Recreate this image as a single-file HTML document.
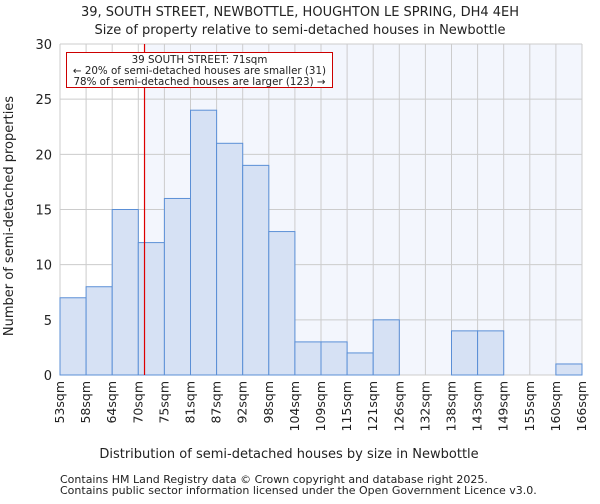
<!DOCTYPE html>
<html><head><meta charset="utf-8"><style>
body{margin:0;background:#fff;font-family:"DejaVu Sans","Liberation Sans",sans-serif}
svg text{font-family:"DejaVu Sans","Liberation Sans",sans-serif;fill:#222}
</style></head><body>
<svg id="c" width="600" height="500"></svg>
<script>
const categories=["53sqm","58sqm","64sqm","70sqm","75sqm","81sqm","87sqm","92sqm","98sqm","104sqm","109sqm","115sqm","121sqm","126sqm","132sqm","138sqm","143sqm","149sqm","155sqm","160sqm","166sqm"];
const counts=[7,8,15,12,16,24,21,19,13,3,3,2,5,0,0,4,4,0,0,1];
const yTicks=[0,5,10,15,20,25,30];
const marker=71;
const L=60,R=582,T=44,B=375,yMax=30;
const n=counts.length,bw=(R-L)/n;
const y=v=>B-v/yMax*(B-T);
const xb=i=>L+i*bw;
const edges=[53,58,64,70,75,81,87,92,98,104,109,115,121,126,132,138,143,149,155,160,166];
function xv(v){for(let i=0;i<n;i++){if(v<=edges[i+1])return xb(i)+(v-edges[i])/(edges[i+1]-edges[i])*bw;}return R;}
const s=document.getElementById('c');const NS='http://www.w3.org/2000/svg';
function mk(t,a,p){const e=document.createElementNS(NS,t);for(const k in a)e.setAttribute(k,a[k]);(p||s).appendChild(e);return e;}
let e;
const mx=xv(marker)+1;
e=mk('rect',{x:mx,y:T,width:R-mx,height:B-T,fill:'#f3f6fd'});


for(let i=0;i<=n;i++){e=mk('line',{x1:xb(i),x2:xb(i),y1:T,y2:B,stroke:'#ccc','stroke-width':1});

}
yTicks.forEach(t=>{e=mk('line',{x1:L,x2:R,y1:y(t),y2:y(t),stroke:'#ccc','stroke-width':1});


e=mk('text',{x:L-8,y:y(t)+5,'text-anchor':'end','font-size':13});e.textContent=t;

});
counts.forEach((v,i)=>{if(v<=0)return;e=mk('rect',{x:xb(i),y:y(v),width:bw,height:B-y(v),fill:'#d6e1f4',stroke:'#5b8fd6','stroke-width':1});

});
categories.forEach((c,i)=>{e=mk('text',{transform:`translate(${xb(i)+4},${B+6}) rotate(-90)`,'text-anchor':'end','font-size':12.5});e.textContent=c;

});
e=mk('rect',{x:mx-0.6,y:T,width:1.2,height:B-T,fill:'#dd0000'});


const g=mk('g',{});


mk('rect',{x:66.5,y:52.5,width:266,height:35,fill:'#fff',stroke:'#cc0000','stroke-width':1},g);
[["39 SOUTH STREET: 71sqm",63],["← 20% of semi-detached houses are smaller (31)",74],["78% of semi-detached houses are larger (123) →",85]].forEach(a=>{e=mk('text',{x:199.5,y:a[1],'text-anchor':'middle','font-size':10.3},g);e.textContent=a[0];});
const txt=(t,a,nm)=>{e=mk('text',a);e.textContent=t;

};
txt("39, SOUTH STREET, NEWBOTTLE, HOUGHTON LE SPRING, DH4 4EH",{x:300,y:16,'text-anchor':'middle','font-size':13},'chart-title');
txt("Size of property relative to semi-detached houses in Newbottle",{x:300,y:34,'text-anchor':'middle','font-size':13},'chart-subtitle');
txt("Distribution of semi-detached houses by size in Newbottle",{x:289,y:458,'text-anchor':'middle','font-size':13},'x-axis-title');
txt("Number of semi-detached properties",{transform:'translate(13,216) rotate(-90)','text-anchor':'middle','font-size':13},'y-axis-title');
txt("Contains HM Land Registry data © Crown copyright and database right 2025.",{x:60,y:483,'font-size':11},'footer-line-1');
txt("Contains public sector information licensed under the Open Government Licence v3.0.",{x:60,y:494,'font-size':11},'footer-line-2');
</script></body></html>
